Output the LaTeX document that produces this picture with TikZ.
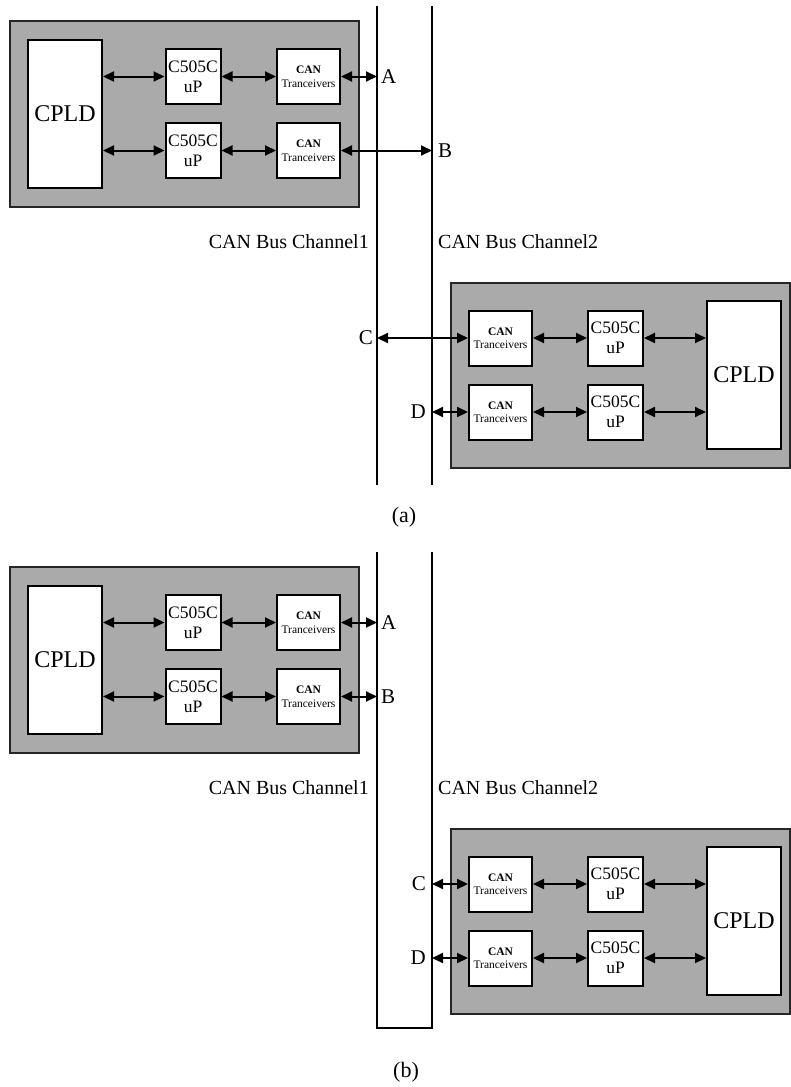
\documentclass[tikz,border=0pt]{standalone}
\usepackage{fontspec}
\setmainfont{Liberation Serif}
\usetikzlibrary{arrows.meta}
\definecolor{panelgray}{RGB}{170,170,170}
\tikzset{
  panel/.style={draw=black!85, line width=1.5pt, fill=panelgray},
  box/.style={draw=black, line width=2pt, fill=white, inner sep=0pt, align=center},
  cpldbox/.style={box, minimum width=74pt, minimum height=148pt, font=\fontsize{24}{28}\selectfont},
  ubox/.style={box, minimum width=55pt, minimum height=55pt, font=\fontsize{17.5}{20}\selectfont},
  canbox/.style={box, minimum width=63pt, minimum height=55pt, font=\fontsize{11.5}{13.5}\selectfont},
  bidir/.style={line width=2pt, {Triangle[length=11pt,width=10pt]}-{Triangle[length=11pt,width=10pt]}},
  bus/.style={line width=2pt},
  letter/.style={inner sep=0pt, font=\fontsize{21}{24}\selectfont},
  chan/.style={inner sep=0pt, font=\fontsize{20}{24}\selectfont},
  captext/.style={inner sep=0pt, font=\fontsize{22}{26}\selectfont}
}
\newcommand{\cantext}{{\bfseries CAN}\\Tranceivers}
\newcommand{\uptext}{C505C\\uP}
% left module: #1 prefix, #2 y offset
\newcommand{\leftmodule}[2]{%
  \begin{scope}[shift={(0,#2)}]
    \draw[panel] (10,21) rectangle (359,207);
    \node[cpldbox] (#1cpld) at (65,113.5) {CPLD};
    \node[ubox] (#1uA) at (193,76.5) {\uptext};
    \node[ubox] (#1uB) at (193,150.5) {\uptext};
    \node[canbox] (#1canA) at (308.5,76.5) {\cantext};
    \node[canbox] (#1canB) at (308.5,150.5) {\cantext};
    \draw[bidir] (#1cpld.east |- #1uA.west) -- (#1uA.west);
    \draw[bidir] (#1cpld.east |- #1uB.west) -- (#1uB.west);
    \draw[bidir] (#1uA.east) -- (#1canA.west);
    \draw[bidir] (#1uB.east) -- (#1canB.west);
  \end{scope}}
% right module
\newcommand{\rightmodule}[2]{%
  \begin{scope}[shift={(0,#2)}]
    \draw[panel] (451,283) rectangle (790,468);
    \node[cpldbox] (#1cpld) at (744,374.5) {CPLD};
    \node[canbox] (#1canC) at (500.5,338) {\cantext};
    \node[canbox] (#1canD) at (500.5,412) {\cantext};
    \node[ubox] (#1uC) at (615.5,338) {\uptext};
    \node[ubox] (#1uD) at (615.5,412) {\uptext};
    \draw[bidir] (#1canC.east) -- (#1uC.west);
    \draw[bidir] (#1canD.east) -- (#1uD.west);
    \draw[bidir] (#1uC.east) -- (#1cpld.west |- #1uC.east);
    \draw[bidir] (#1uD.east) -- (#1cpld.west |- #1uD.east);
  \end{scope}}
\begin{document}
\begin{tikzpicture}[x=1pt,y=-1pt]
\useasboundingbox (0,0) rectangle (791,1087);
% ---------------- (a) ----------------
\leftmodule{a}{0}
\rightmodule{a}{0}
\coordinate (a1top) at (377,6);
\coordinate (a1bot) at (377,485);
\coordinate (a2top) at (432,6);
\coordinate (a2bot) at (432,485);
\draw[bus] (a1top) -- (a1bot);
\draw[bus] (a2top) -- (a2bot);
\draw[bidir] (acanA.east) -- (acanA.east -| a1top);
\draw[bidir] (acanB.east) -- (acanB.east -| a2top);
\draw[bidir] (acanC.west -| a1top) -- (acanC.west);
\draw[bidir] (acanD.west -| a2top) -- (acanD.west);
\node[letter, anchor=west] (aA) at (381,77) {A};
\node[letter, anchor=west] (aB) at (438,151) {B};
\node[letter, anchor=east] (aC) at (373,338) {C};
\node[letter, anchor=east] (aD) at (426,412) {D};
\node[chan, anchor=east] (ach1) at (369,242) {CAN Bus Channel1};
\node[chan, anchor=west] (ach2) at (438,242) {CAN Bus Channel2};
\node[captext] (capa) at (404,517) {(a)};
% ---------------- (b) ----------------
\leftmodule{b}{546}
\rightmodule{b}{546}
\coordinate (b1top) at (377,552);
\coordinate (b1bot) at (377,1028);
\coordinate (b2top) at (432,552);
\coordinate (b2bot) at (432,1028);
\draw[bus] (b1top) -- (b1bot) -- (b2bot) -- (b2top);
\draw[bidir] (bcanA.east) -- (bcanA.east -| b1top);
\draw[bidir] (bcanB.east) -- (bcanB.east -| b1top);
\draw[bidir] (bcanC.west -| b2top) -- (bcanC.west);
\draw[bidir] (bcanD.west -| b2top) -- (bcanD.west);
\node[letter, anchor=west] (bA) at (381,623) {A};
\node[letter, anchor=west] (bB) at (381,697) {B};
\node[letter, anchor=east] (bC) at (426,884) {C};
\node[letter, anchor=east] (bD) at (426,958) {D};
\node[chan, anchor=east] (bch1) at (369,788) {CAN Bus Channel1};
\node[chan, anchor=west] (bch2) at (438,788) {CAN Bus Channel2};
\node[captext] (capb) at (406,1072) {(b)};
\end{tikzpicture}
\end{document}
